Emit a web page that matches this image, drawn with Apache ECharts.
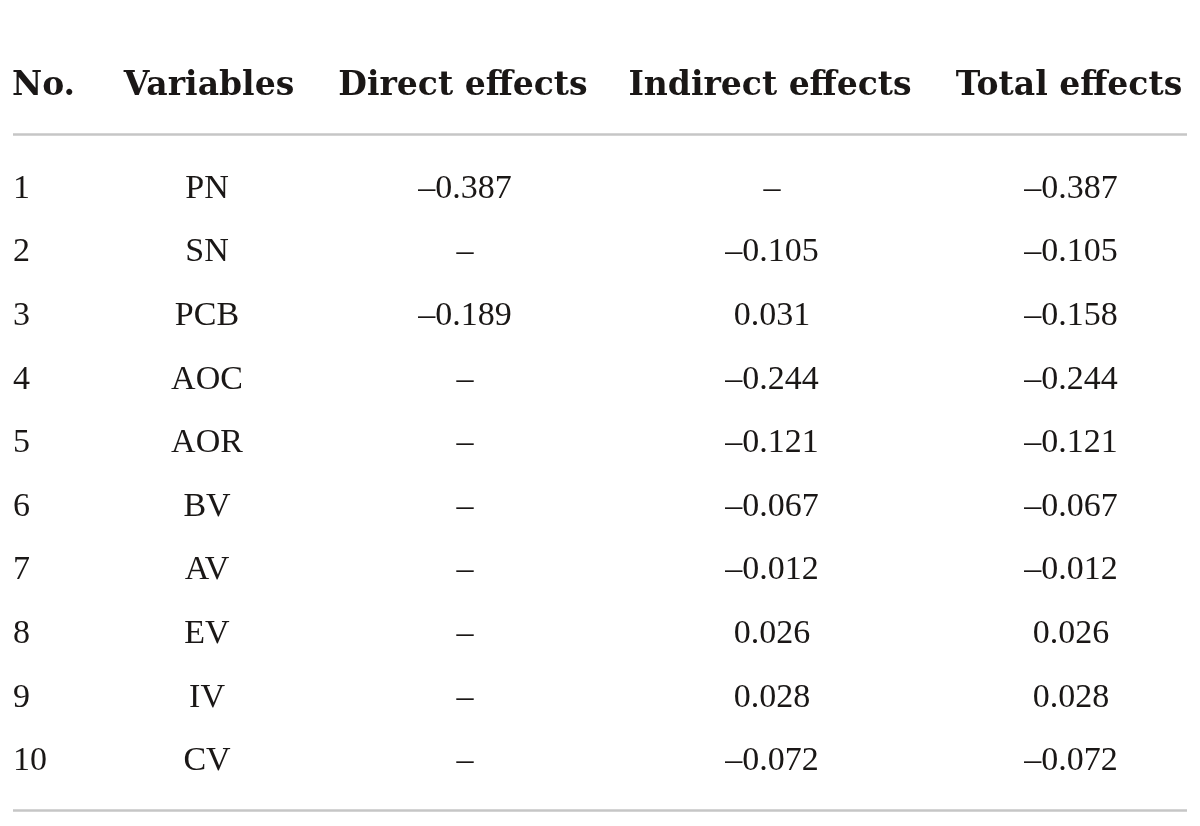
<!DOCTYPE html>
<html>
<head>
<meta charset="utf-8">
<script src="https://cdn.jsdelivr.net/npm/echarts@6/dist/echarts.min.js"></script>
<style>
  html, body { margin: 0; padding: 0; background: #ffffff; }
  #chart { width: 1200px; height: 826px; }
</style>
</head>
<body>
<div id="chart"></div>
<script>
// ---- data ----
const headers = ['No.', 'Variables', 'Direct effects', 'Indirect effects', 'Total effects'];
const rowNo = ['1', '2', '3', '4', '5', '6', '7', '8', '9', '10'];
const variables = ['PN', 'SN', 'PCB', 'AOC', 'AOR', 'BV', 'AV', 'EV', 'IV', 'CV'];
const directEffects = [-0.387, null, -0.189, null, null, null, null, null, null, null];
const indirectEffects = [null, -0.105, 0.031, -0.244, -0.121, -0.067, -0.012, 0.026, 0.028, -0.072];
const totalEffects = [-0.387, -0.105, -0.158, -0.244, -0.121, -0.067, -0.012, 0.026, 0.028, -0.072];

// ---- layout (pixel positions of column anchors on a 0..1200 value axis) ----
const headerX = [12, 209, 463, 770, 1069];
const bodyX = [13, 207, 465, 772, 1071];
const aligns = ['left', 'center', 'center', 'center', 'center'];
const textColor = '#1a1716';

function fmt(v) {
  if (v === null || v === undefined) return '\u2013';
  const s = Math.abs(v).toFixed(3);
  return v < 0 ? '\u2013' + s : s;
}

const columns = [
  rowNo.map(s => s),
  variables.map(s => s),
  directEffects.map(fmt),
  indirectEffects.map(fmt),
  totalEffects.map(fmt)
];

const series = [];
// header row
series.push({
  type: 'scatter',
  xAxisIndex: 0, yAxisIndex: 0,
  symbolSize: 1,
  itemStyle: { color: 'rgba(0,0,0,0)', opacity: 1 },
  emphasis: { disabled: true },
  silent: true,
  data: headers.map((h, i) => ({
    value: [headerX[i], 'header'],
    label: { align: aligns[i] },
    name: h
  })),
  label: {
    show: true,
    position: 'inside',
    formatter: p => p.name,
    fontFamily: 'DejaVu Serif',
    fontWeight: 'bold',
    fontSize: 33,
    color: textColor,
    opacity: 1,
    verticalAlign: 'middle'
  }
});
// body columns
columns.forEach((col, c) => {
  series.push({
    type: 'scatter',
    xAxisIndex: 1, yAxisIndex: 1,
    symbolSize: 1,
    itemStyle: { color: 'rgba(0,0,0,0)', opacity: 1 },
    emphasis: { disabled: true },
    silent: true,
    data: col.map((txt, r) => ({ value: [bodyX[c], rowNo[r]], name: txt })),
    label: {
      show: true,
      position: 'inside',
      align: aligns[c],
      verticalAlign: 'middle',
      formatter: p => p.name,
      fontFamily: 'Liberation Serif',
      fontSize: 34,
      color: textColor,
      opacity: 1
    }
  });
});

const chart = echarts.init(document.getElementById('chart'), null, { renderer: 'canvas' });
chart.setOption({
  animation: false,
  backgroundColor: '#ffffff',
  grid: [
    { left: 0, right: 0, top: 54, height: 64 },
    { left: 0, right: 0, top: 157, height: 636 }
  ],
  xAxis: [
    { type: 'value', gridIndex: 0, min: 0, max: 1200, show: false },
    { type: 'value', gridIndex: 1, min: 0, max: 1200, show: false }
  ],
  yAxis: [
    { type: 'category', gridIndex: 0, data: ['header'], show: false },
    { type: 'category', gridIndex: 1, data: rowNo, inverse: true, show: false }
  ],
  graphic: [
    { type: 'line', shape: { x1: 13, y1: 134.5, x2: 1187, y2: 134.5 }, style: { stroke: '#c6c6c6', lineWidth: 2.6 }, silent: true },
    { type: 'line', shape: { x1: 13, y1: 810.5, x2: 1187, y2: 810.5 }, style: { stroke: '#c6c6c6', lineWidth: 2.6 }, silent: true }
  ],
  series: series
});
</script>
</body>
</html>
